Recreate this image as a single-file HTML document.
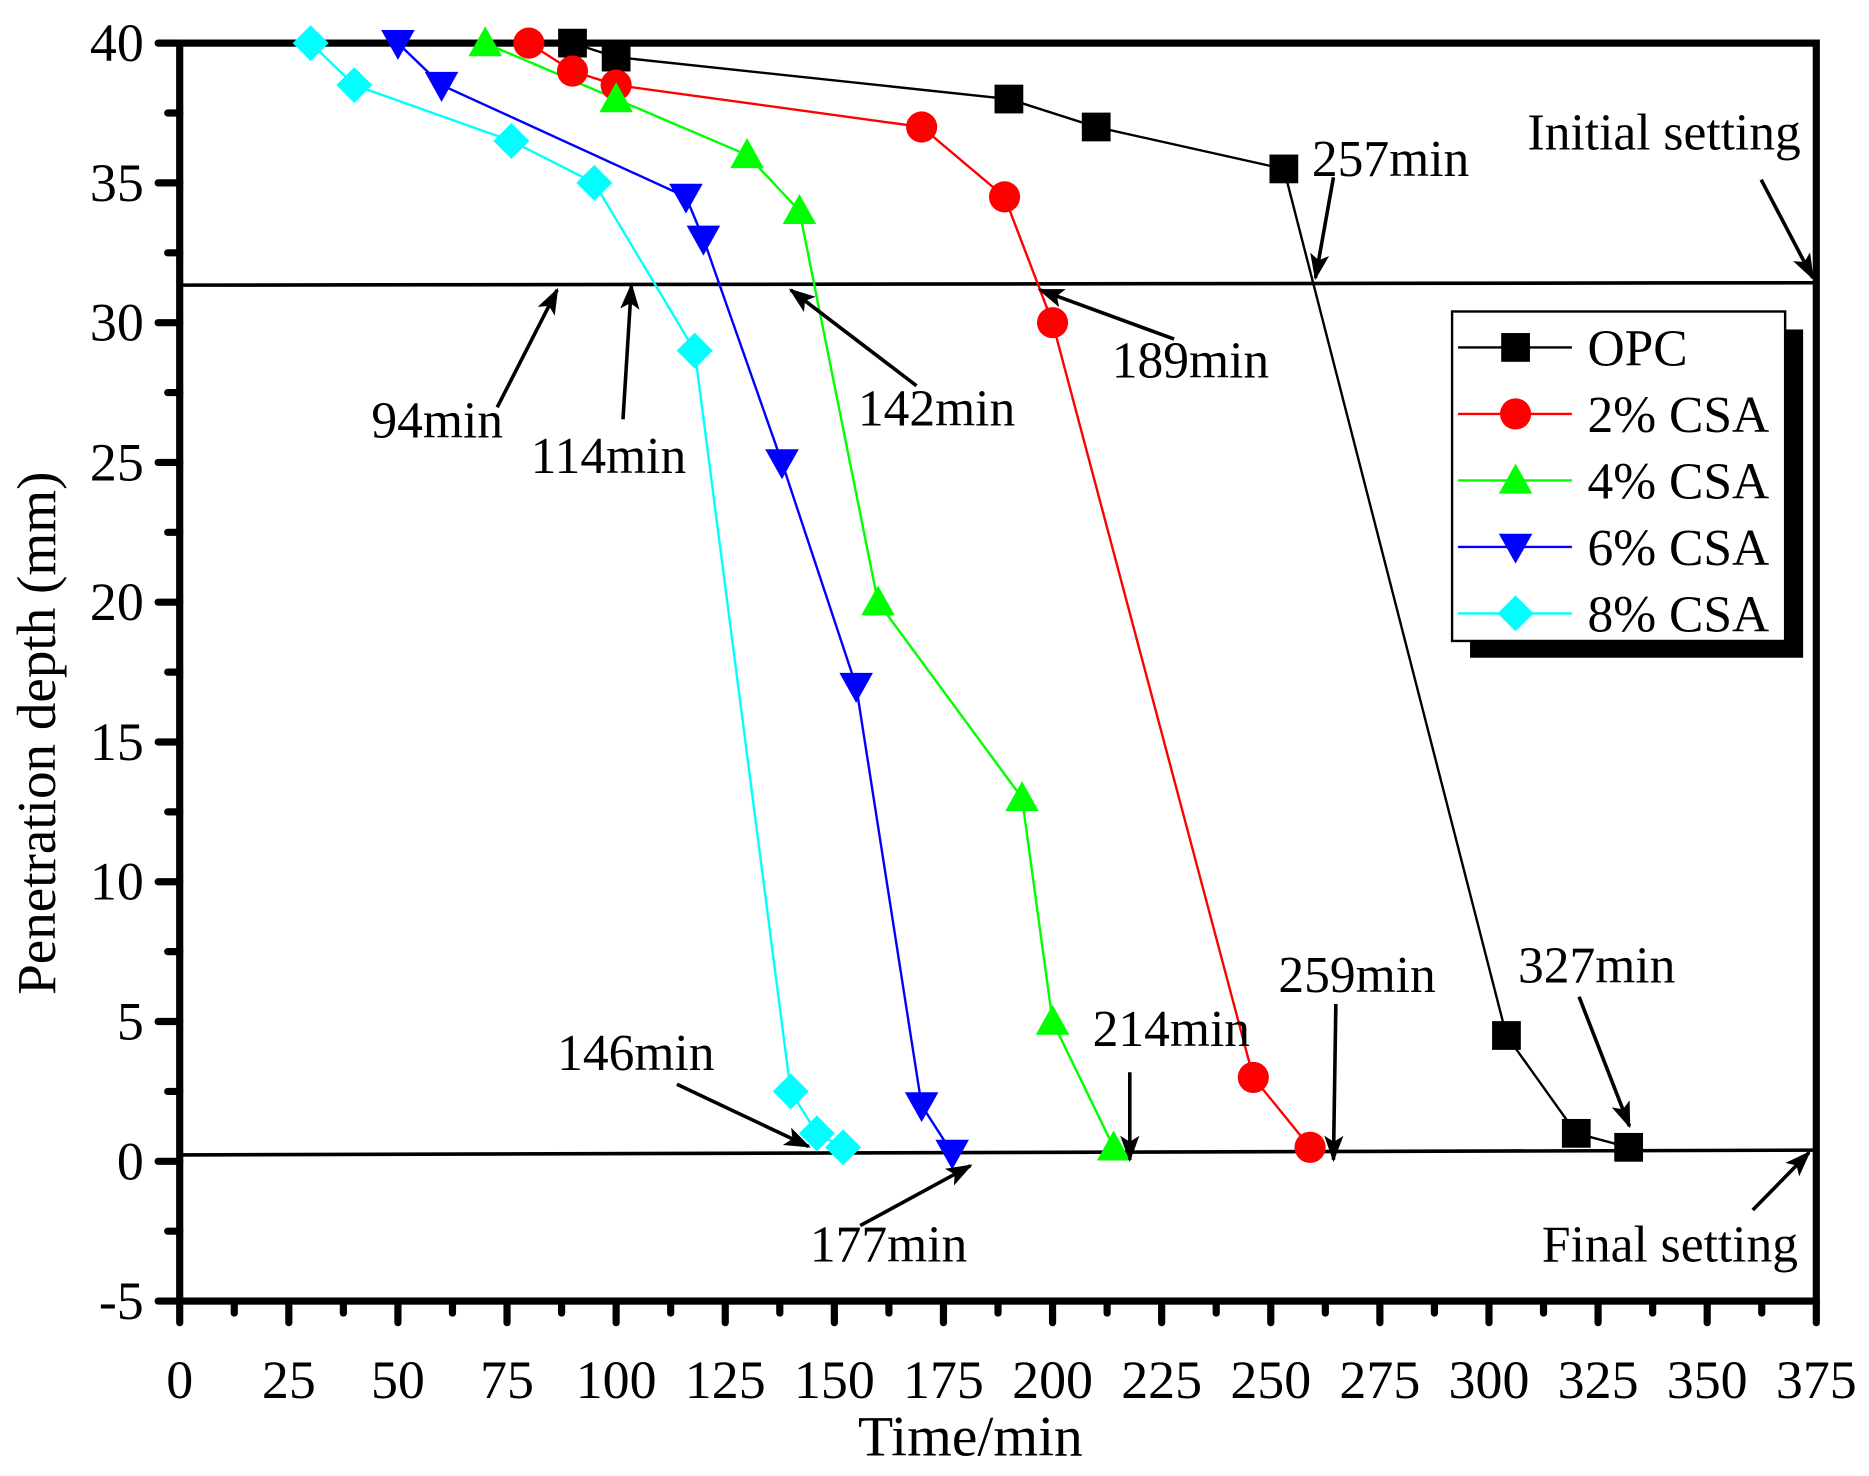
<!DOCTYPE html>
<html><head><style>html,body{margin:0;padding:0;background:#fff}svg{display:block}</style></head><body>
<svg width="1869" height="1476" viewBox="0 0 1560 1232" preserveAspectRatio="none" xmlns="http://www.w3.org/2000/svg" font-family="Liberation Serif, serif">
<defs>
<marker id="ah" markerWidth="22" markerHeight="16" refX="20" refY="8" orient="auto" markerUnits="userSpaceOnUse" viewBox="0 0 22 16"><path d="M0,0 L22,8 L0,16 L5,8 z" fill="#000"/></marker>
</defs>
<rect x="150" y="36" width="1366" height="1050" fill="none" stroke="#000" stroke-width="6"/>
<g id="ticks" stroke="#000" stroke-width="6" stroke-linecap="round"></g>
<g font-size="45" id="labels"></g>
<text x="810" y="1215" font-size="48" text-anchor="middle">Time/min</text>
<text transform="translate(46,612) rotate(-90)" font-size="46" text-anchor="middle">Penetration depth (mm)</text>
<line x1="150" y1="238" x2="1516" y2="236" stroke="#000" stroke-width="3"/>
<line x1="150" y1="964" x2="1516" y2="960" stroke="#000" stroke-width="3"/>
<g id="series"></g>
<g font-size="43" fill="#000">
<text x="1095" y="147">257min</text>
<text x="1275" y="125">Initial setting</text>
<text x="928" y="315">189min</text>
<text x="716" y="355">142min</text>
<text x="443" y="395">114min</text>
<text x="310" y="365">94min</text>
<text x="465" y="893">146min</text>
<text x="912" y="873">214min</text>
<text x="1067" y="828">259min</text>
<text x="1267" y="820">327min</text>
<text x="676" y="1053">177min</text>
<text x="1287" y="1053">Final setting</text>
</g>
<g stroke="#000" stroke-width="3" marker-end="url(#ah)">
<line x1="1113" y1="148" x2="1098" y2="232"/>
<line x1="1470" y1="150" x2="1513" y2="232"/>
<line x1="980" y1="283" x2="868" y2="242"/>
<line x1="765" y1="322" x2="660" y2="242"/>
<line x1="520" y1="350" x2="527" y2="238"/>
<line x1="415" y1="340" x2="465" y2="242"/>
<line x1="565" y1="905" x2="675" y2="957"/>
<line x1="943" y1="895" x2="943" y2="968"/>
<line x1="1115" y1="838" x2="1113" y2="968"/>
<line x1="1318" y1="832" x2="1360" y2="940"/>
<line x1="718" y1="1023" x2="810" y2="973"/>
<line x1="1463" y1="1010" x2="1510" y2="962"/>
</g>
<rect x="1227" y="275" width="278" height="274" fill="#000"/>
<rect x="1212" y="260" width="278" height="275" fill="#fff" stroke="#000" stroke-width="2"/>
<g id="legend" font-size="43"></g>
<script>
const ns="http://www.w3.org/2000/svg";
function el(t,a,p){const e=document.createElementNS(ns,t);for(const k in a)e.setAttribute(k,a[k]);(p||document.getElementById('series')).appendChild(e);return e;}
const X=t=>150+t*3.6427, Y=v=>36+(40-v)*23.333;
const tk=document.getElementById('ticks'), lb=document.getElementById('labels');
for(let t=0;t<=375;t+=12.5){const x=X(t),maj=t%25==0;el('line',{x1:x,y1:1086,x2:x,y2:maj?1104:1096},tk);
 if(maj){const s=el('text',{x:x,y:1167,'text-anchor':'middle'},lb);s.textContent=t;}}
for(let v=-5;v<=40;v+=2.5){const y=Y(v),maj=v%5==0;el('line',{x1:150,y1:y,x2:maj?132:140,y2:y},tk);
 if(maj){const s=el('text',{x:120,y:y+15,'text-anchor':'end'},lb);s.textContent=v;}}
const S=[
 ['#000','sq',[[90,40],[100,39.5],[190,38],[210,37],[253,35.5],[304,4.5],[320,1],[332,0.5]]],
 ['#f00','ci',[[80,40],[90,39],[100,38.5],[170,37],[189,34.5],[200,30],[246,3],[259,0.5]]],
 ['#0f0','up',[[70,40],[100,38],[130,36],[142,34],[160,20],[193,13],[200,5],[214,0.5]]],
 ['#00f','dn',[[50,40],[60,38.5],[116,34.5],[120,33],[138,25],[155,17],[170,2],[177,0.3]]],
 ['#0ff','di',[[30,40],[40,38.5],[76,36.5],[95,35],[118,29],[140,2.5],[146,1],[152,0.5]]]];
function mk(type,x,y,c,p){const r=12;
 if(type=='sq')el('rect',{x:x-r,y:y-r,width:2*r,height:2*r,fill:c},p);
 else if(type=='ci')el('circle',{cx:x,cy:y,r:r+1,fill:c},p);
 else if(type=='up')el('path',{d:`M${x},${y-14}L${x+14},${y+11}L${x-14},${y+11}z`,fill:c},p);
 else if(type=='dn')el('path',{d:`M${x},${y+14}L${x+14},${y-11}L${x-14},${y-11}z`,fill:c},p);
 else el('path',{d:`M${x},${y-15}L${x+15},${y}L${x},${y+15}L${x-15},${y}z`,fill:c},p);}
S.forEach(([c,t,d])=>{el('polyline',{points:d.map(p=>X(p[0])+','+Y(p[1])).join(' '),fill:'none',stroke:c,'stroke-width':2});});
S.forEach(([c,t,d])=>{d.forEach(p=>{mk(t,X(p[0]),Y(p[1]),c);});});
const lg=document.getElementById('legend');const names=['OPC','2% CSA','4% CSA','6% CSA','8% CSA'];
S.forEach(([c,t],i)=>{const y=290+i*55.5;el('line',{x1:1217,y1:y,x2:1312,y2:y,stroke:c,'stroke-width':2},lg);mk(t,1265,y,c,lg);
 const s=el('text',{x:1325,y:y+15},lg);s.textContent=names[i];});
</script>
</svg>
</body></html>
